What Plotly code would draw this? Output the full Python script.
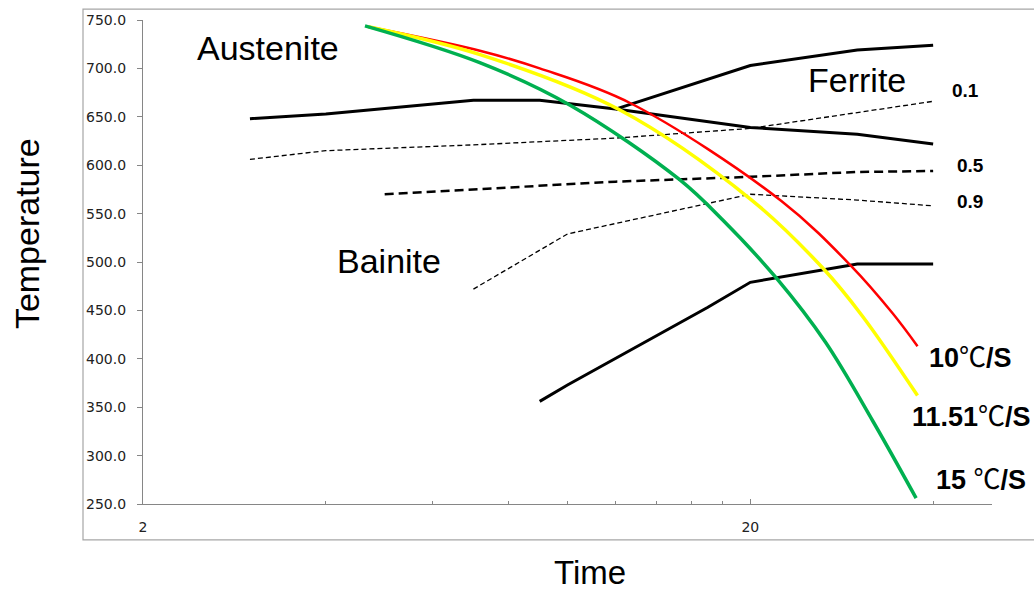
import plotly.graph_objects as go

# ---------------- data ----------------
ferrite_t = [3, 4, 7, 9, 12, 20, 30, 40]
ferrite_T = [648, 653, 667, 667, 658, 639, 632, 622]

ferrite_rise_t = [12, 20, 30, 40]
ferrite_rise_T = [658, 703, 719, 724]

bainite_t = [9, 10, 17, 20, 30, 40]
bainite_T = [356, 373, 453, 479, 498, 498]

frac01_t = [3, 4, 7, 9, 12, 20, 30, 40]
frac01_T = [606, 615, 621, 624, 628, 638, 654, 666]

frac05_t = [5, 7, 9, 12, 20, 30, 40]
frac05_T = [570, 575, 579, 583, 588, 593, 594]

frac09_t = [7, 10, 20, 30, 40]
frac09_T = [472, 529, 570, 564, 558]

red_t = [4.7, 7.2, 9.0, 12.7, 22.5, 29.3, 34.3, 37.7]
red_T = [743, 718, 700, 664, 563, 496, 447, 413]

yellow_t = [4.7, 7.2, 12.2, 20.1, 26.3, 30.6, 37.7]
yellow_T = [743, 714, 657, 564, 494, 444, 362]

green_t = [4.64, 7.17, 10.1, 15.3, 18.1, 22.1, 26.6, 31.8, 37.5]
green_T = [744, 706, 662, 585, 542, 483, 417, 336, 256]

x_major_ticks = [2, 20]
x_major_labels = ["2", "20"]
x_minor_ticks = [4, 6, 8, 10, 12, 14, 16, 18, 40, 50]

rate_labels = ["10", "11.51", "15 "]

# ---------------- layout helpers (pixel -> paper) ----------------
W, H = 1034, 592
L, T, R, B = 143, 18, 992, 504


def px(x):
    return (x - L) / (R - L)


def py(y):
    return (B - y) / (B - T)


fig = go.Figure()

black = dict(color="black", width=3)
fig.add_trace(go.Scatter(x=ferrite_t, y=ferrite_T, mode="lines", line=black))
fig.add_trace(go.Scatter(x=ferrite_rise_t, y=ferrite_rise_T, mode="lines", line=black))
fig.add_trace(go.Scatter(x=bainite_t, y=bainite_T, mode="lines", line=black))
fig.add_trace(go.Scatter(x=frac01_t, y=frac01_T, mode="lines",
                         line=dict(color="black", width=1.3, dash="5px,3px")))
fig.add_trace(go.Scatter(x=frac05_t, y=frac05_T, mode="lines",
                         line=dict(color="black", width=2.5, dash="9px,5px")))
fig.add_trace(go.Scatter(x=frac09_t, y=frac09_T, mode="lines",
                         line=dict(color="black", width=1.3, dash="5px,3px")))
fig.add_trace(go.Scatter(x=red_t, y=red_T, mode="lines",
                         line=dict(color="#ff0000", width=2.5, shape="spline")))
fig.add_trace(go.Scatter(x=yellow_t, y=yellow_T, mode="lines",
                         line=dict(color="#ffff00", width=3.5, shape="spline")))
fig.add_trace(go.Scatter(x=green_t, y=green_T, mode="lines",
                         line=dict(color="#00b050", width=3.5, shape="spline")))

tick_font = dict(family="DejaVu Sans", size=14, color="#222222")
big = dict(family="Liberation Sans, Arial", size=34, color="black")
bold_small = dict(family="Liberation Sans, Arial", size=19, color="black")
rate_font = dict(family="Liberation Sans, Arial", size=27, color="black")

deg = "<span style='font-family:Noto Sans CJK SC;font-weight:normal'>℃</span>"


def rate_text(v):
    return "<b>" + v + "</b>" + deg + "<b>/S</b>"


annotations = [
    dict(text="Austenite", x=px(268), y=py(46), font=big),
    dict(text="Ferrite", x=px(857), y=py(78), font=big),
    dict(text="Bainite", x=px(389), y=py(260), font=big),
    dict(text="<b>0.1</b>", x=px(965), y=py(89), font=bold_small),
    dict(text="<b>0.5</b>", x=px(970), y=py(164), font=bold_small),
    dict(text="<b>0.9</b>", x=px(970), y=py(200), font=bold_small),
    dict(text=rate_text(rate_labels[0]), x=px(970), y=py(355), font=rate_font),
    dict(text=rate_text(rate_labels[1]), x=px(971), y=py(414), font=rate_font),
    dict(text=rate_text(rate_labels[2]), x=px(981), y=py(477), font=rate_font),
    dict(text="Temperature", x=px(27), y=py(233), textangle=-90, font=big),
    dict(text="Time", x=px(590), y=py(573), font=dict(family="Liberation Sans, Arial",
                                                      size=33, color="black")),
]
for a in annotations:
    a.update(xref="paper", yref="paper", showarrow=False,
             xanchor="center", yanchor="middle")

fig.update_layout(
    width=W, height=H,
    margin=dict(l=L, r=W - R, t=T, b=H - B),
    paper_bgcolor="white", plot_bgcolor="white",
    showlegend=False,
    annotations=annotations,
    shapes=[dict(type="rect", xref="paper", yref="paper",
                 x0=px(83), x1=px(1040), y0=py(540), y1=py(7),
                 line=dict(color="#a6a6a6", width=1.2), layer="below")],
)

fig.update_xaxes(
    type="log", range=[0.30103, 1.69897],
    tickmode="array", tickvals=x_major_ticks, ticktext=x_major_labels,
    ticks="inside", ticklen=5, tickcolor="#868686", tickwidth=1,
    showline=True, linecolor="#868686", linewidth=1.2,
    showgrid=False, zeroline=False, tickfont=tick_font,
    ticklabelstandoff=10,
    minor=dict(tickmode="array", tickvals=x_minor_ticks, ticks="inside",
               ticklen=3, tickcolor="#868686", showgrid=False),
)
fig.update_yaxes(
    range=[250, 750], dtick=50, tick0=250, tickformat=".1f",
    ticks="outside", ticklen=5, tickcolor="#868686", tickwidth=1,
    showline=True, linecolor="#868686", linewidth=1.2,
    showgrid=False, zeroline=False, tickfont=tick_font,
    ticklabelstandoff=8,
)

fig.write_html("out.html")
